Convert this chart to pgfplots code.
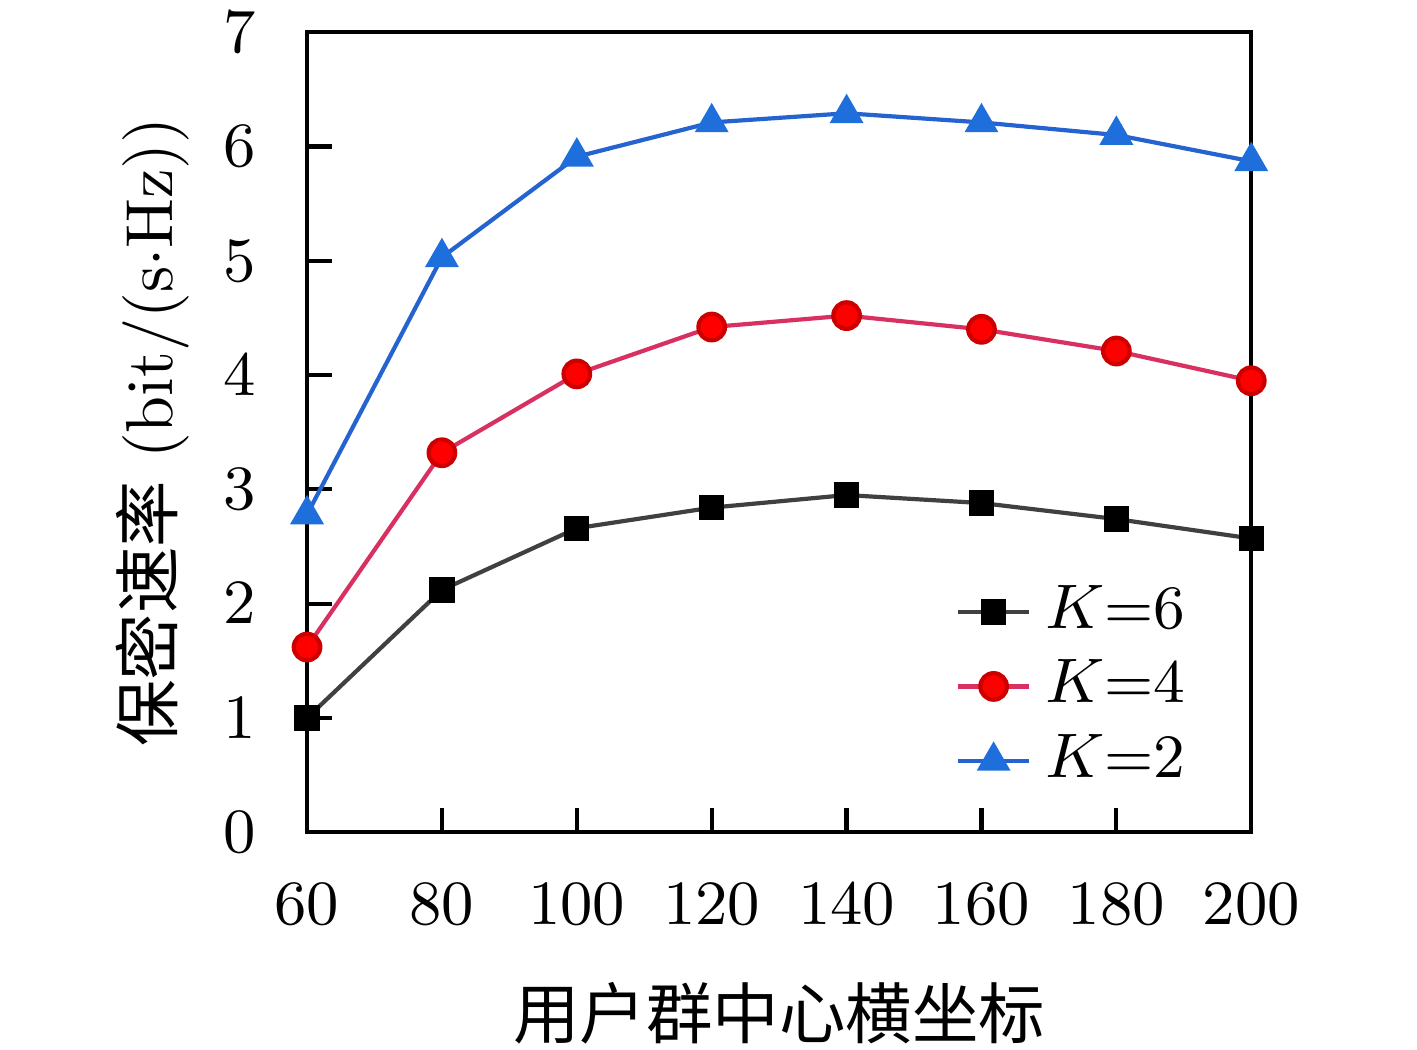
\documentclass[border=0pt]{standalone}
\usepackage{fontspec}
\usepackage{pgfplots}
\pgfplotsset{compat=1.18}
\newfontfamily\cjk{Noto Sans CJK SC}
\definecolor{lineK}{HTML}{404040}
\definecolor{lineR}{HTML}{D93062}
\definecolor{markR}{HTML}{FF0000}
\definecolor{lineB}{HTML}{2563D0}
\definecolor{markB}{HTML}{1E6FDC}
\begin{document}
\begin{tikzpicture}
\begin{axis}[
  scale only axis,
  width=135pt, height=114.4pt,
  xmin=60, xmax=200, ymin=0, ymax=7,
  xtick={60,80,...,200}, ytick={0,1,...,7},
  tick align=inside,
  xtick pos=bottom, ytick pos=left,
  major tick length=3.5pt,
  axis line style={line width=0.6pt},
  tick style={line width=0.6pt, black},
  font=\fontsize{9.5}{11}\selectfont,
  xticklabel style={yshift=-3.8pt},
  yticklabel style={xshift=-3.8pt},
  xlabel={\cjk 用户群中心横坐标},
  ylabel={{\cjk 保密速率} (bit/(s$\cdot$Hz))},
  xlabel shift=1.4pt,
  ylabel shift=-2pt,
  clip=false,
  legend cell align=left,
  legend style={draw=none, fill=none, at={(0.969,0.019)}, anchor=south east,
    row sep=-1pt, font=\fontsize{8.8}{10}\selectfont},
  legend image code/.code={\draw[mark repeat=2,mark phase=2] plot coordinates {(0cm,0cm) (0.18cm,0cm) (0.36cm,0cm)};},
]
\addplot[color=lineK, line width=0.6pt, mark=square*, mark size=1.5pt, mark options={solid, fill=black, draw=black}]
  coordinates {(60,1.00) (80,2.12) (100,2.66) (120,2.84) (140,2.95) (160,2.88) (180,2.74) (200,2.57)};
\addlegendentry{$K$=6}
\addplot[color=lineR, line width=0.6pt, mark=*, mark size=1.9pt, mark options={solid, fill=markR, draw=markR!80!black}]
  coordinates {(60,1.62) (80,3.32) (100,4.01) (120,4.42) (140,4.52) (160,4.40) (180,4.21) (200,3.95)};
\addlegendentry{$K$=4}
\addplot[color=lineB, line width=0.6pt, mark=triangle*, mark size=2.2pt, mark options={solid, fill=markB, draw=markB}]
  coordinates {(60,2.78) (80,5.03) (100,5.91) (120,6.21) (140,6.29) (160,6.21) (180,6.10) (200,5.87)};
\addlegendentry{$K$=2}
\path (rel axis cs:0,0) ++(-43.9pt,-31pt) coordinate (bbSW);
\path (rel axis cs:1,1) ++(23.7pt,4.6pt) coordinate (bbNE);
\end{axis}
\pgfresetboundingbox
\useasboundingbox (bbSW) rectangle (bbNE);
\end{tikzpicture}
\end{document}
